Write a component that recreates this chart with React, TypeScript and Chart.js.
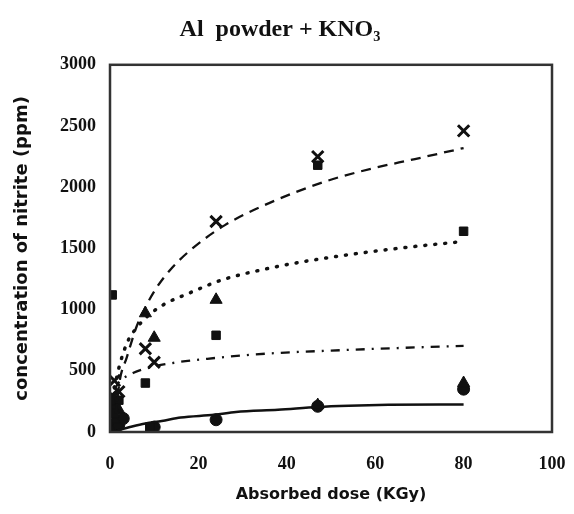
import React, { useEffect, useRef } from "react";
import { Chart, registerables } from "chart.js";

Chart.register(...registerables);

// ---- data ----
const TITLE = "Al  powder + KNO₃";
const X_TITLE = "Absorbed dose (KGy)";
const Y_TITLE = "concentration of nitrite (ppm)";

const X_TICKS = [0, 20, 40, 60, 80, 100];
const Y_TICKS = [0, 500, 1000, 1500, 2000, 2500, 3000];

// measured markers
const crossX = [0.5, 1, 2, 8, 10, 24, 47, 80];
const crossY = [300, 420, 330, 680, 570, 1720, 2250, 2460];

const squareX = [0.5, 1, 2, 8, 9, 24, 47, 80];
const squareY = [1120, 150, 260, 400, 40, 790, 2180, 1640];

const triangleX = [0.5, 1, 2, 8, 10, 24, 47, 80];
const triangleY = [250, 100, 180, 970, 770, 1080, 220, 400];

const circleX = [0.5, 1, 2, 3, 10, 24, 47, 80];
const circleY = [30, 200, 60, 110, 40, 100, 210, 350];

// fitted trend lines
const dashX = [1.3, 2.2, 3.8, 6, 8, 10.5, 13.5, 18, 26, 36, 49, 59, 69, 80];
const dashY = [150, 420, 610, 860, 1020, 1177, 1320, 1480, 1690, 1870, 2050, 2150, 2230, 2320];

const dotX = [1, 2.2, 4, 6, 8.3, 12, 18, 25.4, 36.4, 46, 57.7, 68, 79];
const dotY = [360, 550, 740, 850, 940, 1038, 1136, 1243, 1341, 1405, 1467, 1512, 1553];

const dashDotX = [1, 2, 5.2, 10, 15.7, 22, 31.5, 38, 50, 65, 80];
const dashDotY = [348, 404, 482, 535, 572, 598, 630, 646, 665, 686, 703];

const solidX = [1, 2, 5, 8, 11.7, 16, 23.6, 28.5, 38, 47, 54, 63, 80];
const solidY = [0, 15, 45, 70, 90, 118, 140, 164, 182, 205, 215, 222, 225];

const zip = (xs: number[], ys: number[]) => xs.map((x, i) => ({ x, y: ys[i] }));

const INK = "#111";

const framePlugin = {
  id: "frame",
  afterDraw(chart: any) {
    const { ctx, chartArea } = chart;
    ctx.save();
    ctx.strokeStyle = "#333";
    ctx.lineWidth = 2.5;
    ctx.strokeRect(chartArea.left, chartArea.top, chartArea.right - chartArea.left, chartArea.bottom - chartArea.top);
    ctx.restore();
  },
};

export default function App() {
  const ref = useRef<HTMLCanvasElement | null>(null);

  useEffect(() => {
    if (!ref.current) return;
    const lineDs = (label: string, xs: number[], ys: number[], dash: number[], width: number, cap: CanvasLineCap = "butt") => ({
      label,
      type: "line" as const,
      data: zip(xs, ys),
      borderColor: INK,
      borderWidth: width,
      borderDash: dash,
      borderCapStyle: cap,
      pointRadius: 0,
      fill: false,
      cubicInterpolationMode: "monotone" as const,
      showLine: true,
    });
    const markerDs = (label: string, xs: number[], ys: number[], style: string, radius: number, bw: number) => ({
      label,
      type: "scatter" as const,
      data: zip(xs, ys),
      pointStyle: style,
      pointRadius: radius,
      backgroundColor: INK,
      borderColor: INK,
      borderWidth: bw,
      showLine: false,
    });

    const chart = new Chart(ref.current, {
      type: "scatter",
      data: {
        datasets: [
          lineDs("dashed fit", dashX, dashY, [10, 7], 2.3),
          lineDs("dotted fit", dotX, dotY, [1, 9], 3.5, "round"),
          lineDs("dash-dot fit", dashDotX, dashDotY, [9, 7, 2, 7], 2.3),
          lineDs("solid fit", solidX, solidY, [], 2.5),
          markerDs("cross", crossX, crossY, "crossRot", 8, 3),
          markerDs("square", squareX, squareY, "rect", 6, 1),
          markerDs("triangle", triangleX, triangleY, "triangle", 7, 1),
          markerDs("circle", circleX, circleY, "circle", 6, 1),
        ] as any,
      },
      options: {
        animation: false,
        responsive: false,
        layout: { padding: { top: 0, right: 14, left: 0, bottom: 0 } },
        plugins: {
          legend: { display: false },
          tooltip: { enabled: false },
          title: {
            display: true,
            text: TITLE,
            color: INK,
            font: { family: "Liberation Serif", size: 24, weight: "bold" },
            padding: { top: 7, bottom: 21 },
          },
        },
        scales: {
          x: {
            type: "linear",
            min: 0,
            max: 100,
            afterBuildTicks: (s: any) => {
              s.ticks = X_TICKS.map((v) => ({ value: v }));
            },
            afterFit: (s: any) => {
              s.height = 74;
              s.paddingLeft = 0;
              s.paddingRight = 0;
            },
            grid: { display: false, drawTicks: false },
            border: { display: false },
            ticks: {
              color: INK,
              padding: 22,
              maxRotation: 0,
              callback: (v: any) => String(v),
              font: { family: "Liberation Serif", size: 18, weight: "bold" },
            },
            title: {
              display: true,
              text: X_TITLE,
              color: INK,
              font: { family: "DejaVu Sans", size: 16, weight: "bold" },
              padding: { top: 0, bottom: 2 },
            },
          },
          y: {
            type: "linear",
            min: 0,
            max: 3000,
            afterBuildTicks: (s: any) => {
              s.ticks = Y_TICKS.map((v) => ({ value: v }));
            },
            afterFit: (s: any) => {
              s.width = 102;
            },
            grid: { display: false, drawTicks: false },
            border: { display: false },
            ticks: {
              color: INK,
              padding: 14,
              callback: (v: any) => String(v),
              font: { family: "Liberation Serif", size: 18, weight: "bold" },
            },
            title: {
              display: true,
              text: Y_TITLE,
              color: INK,
              font: { family: "DejaVu Sans", size: 18, weight: "bold" },
              padding: { top: 4, bottom: 0 },
            },
          },
        },
      },
      plugins: [framePlugin],
    });
    return () => chart.destroy();
  }, []);

  return (
    <div style={{ width: 558, height: 498, background: "#fff" }}>
      <canvas ref={ref} width={558} height={498} />
    </div>
  );
}
